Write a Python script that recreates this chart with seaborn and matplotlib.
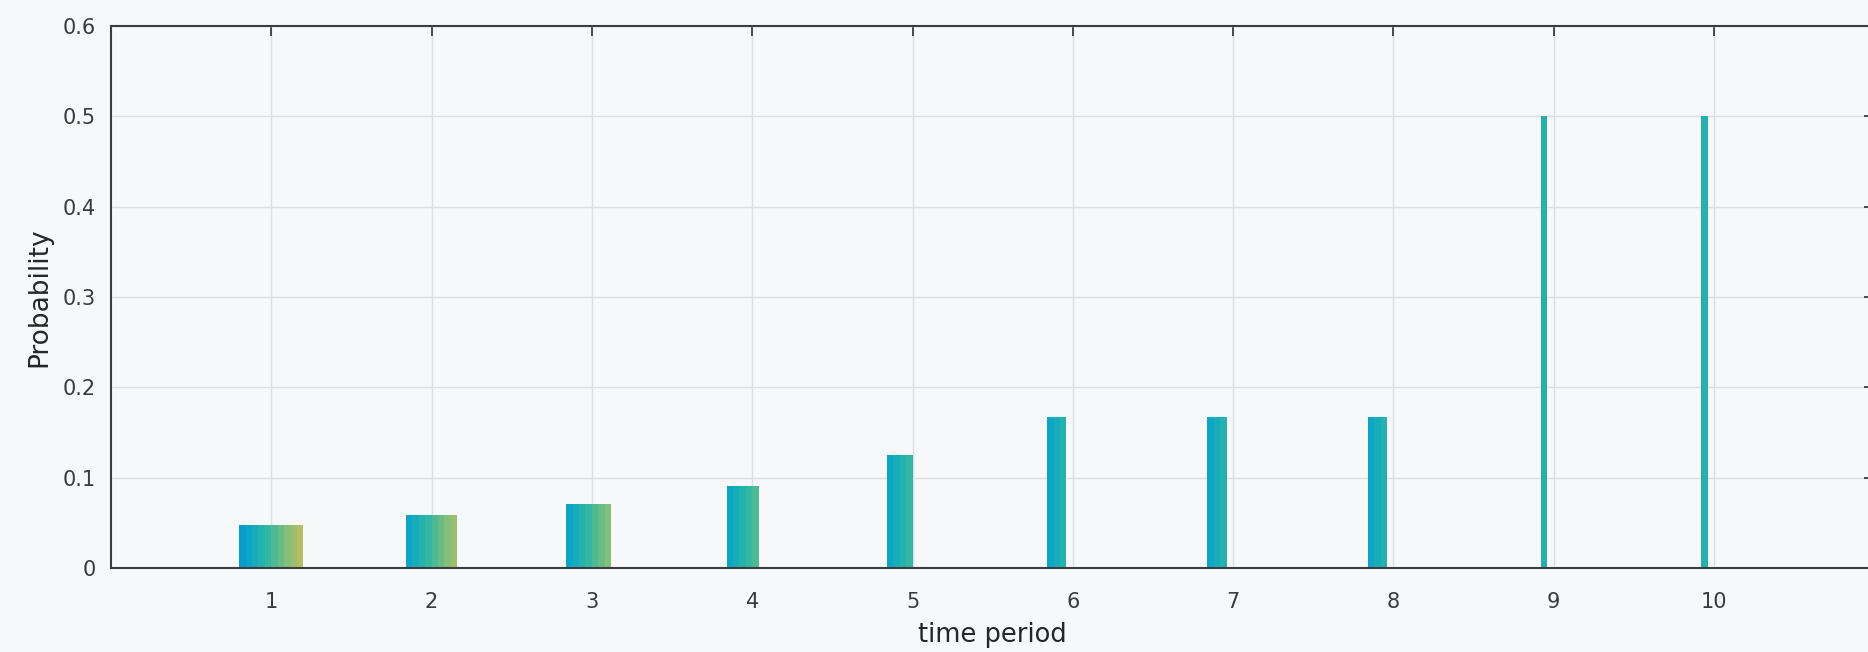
import numpy as np
import pandas as pd
import seaborn as sns
import matplotlib.pyplot as plt
from matplotlib.colors import LinearSegmentedColormap

# Probability per time period, spread over a contiguous run of states
periods = [1, 2, 3, 4, 5, 6, 7, 8, 9, 10]
first_state = [6, 7, 7, 7, 7, 7, 7, 7, 9, 9]
last_state = [15, 14, 13, 11, 10, 9, 9, 9, 9, 9]
probability = [0.048, 0.059, 0.071, 0.091, 0.125, 0.167, 0.167, 0.167, 0.5, 0.5]
n_states = 20

y_ticks = [0, 0.1, 0.2, 0.3, 0.4, 0.5, 0.6]
y_tick_labels = ["0", "0.1", "0.2", "0.3", "0.4", "0.5", "0.6"]
x_label = "time period"
y_label = "Probability"

state_names = [f"s{k:02d}" for k in range(1, n_states + 1)]
rows = []
for p, lo, hi, v in zip(periods, first_state, last_state, probability):
    for k, name in enumerate(state_names, start=1):
        rows.append({"period": p, "state": name,
                     "probability": v if lo <= k <= hi else 0.0})
df = pd.DataFrame(rows)

# parula-like colour ramp across the states
parula = LinearSegmentedColormap.from_list(
    "parula_like",
    ["#352a87", "#0f5cdd", "#1481d6", "#06a4ca", "#2eb7a4",
     "#87bf77", "#d1bb59", "#fec832", "#f9fb0e"])
palette = [parula(t) for t in np.linspace(0.15, 0.9, n_states)]

sns.set_theme(style="white")
plt.rcParams["font.family"] = ["DejaVu Sans"]

bg = "#f6f8f9"
fig = plt.figure(figsize=(18.68, 6.52), dpi=100, facecolor=bg)
ax = fig.add_axes([111 / 1868, 1 - 568 / 652, 11 * 160.3 / 1868, 542 / 652])
ax.set_facecolor(bg)

sns.barplot(data=df, x="period", y="probability", hue="state",
            hue_order=state_names, palette=palette, native_scale=True,
            dodge=True, width=0.8, saturation=1, errorbar=None,
            linewidth=0, legend=False, ax=ax)

ax.set_xlim(0, 11)
ax.set_ylim(0, 0.6)
ax.set_xticks(periods)
ax.set_xticklabels([str(p) for p in periods])
ax.set_yticks(y_ticks)
ax.set_yticklabels(y_tick_labels)

ax.grid(True, color="#dedede", linewidth=1.0)
ax.set_axisbelow(True)

for side in ["left", "right", "top", "bottom"]:
    ax.spines[side].set_visible(True)
    ax.spines[side].set_color("#3c3c3c")
    ax.spines[side].set_linewidth(1.5)

ax.tick_params(axis="both", direction="in", top=True, right=True,
               length=7.5, width=1.3, color="#3c3c3c",
               labelsize=15, labelcolor="#3a3a3a")
ax.tick_params(axis="x", pad=17)
ax.tick_params(axis="y", pad=11)

ax.set_xlabel(x_label, fontsize=18.5, color="#262626")
ax.set_ylabel(y_label, fontsize=19, color="#262626")
ax.xaxis.set_label_coords(0.5, -(635 - 568) / 542)
ax.xaxis.label.set_va("center")
ax.yaxis.set_label_coords(-72 / (11 * 160.3), 0.5)
ax.yaxis.label.set_va("center")

fig.savefig("out.png", dpi=100, facecolor=bg)
